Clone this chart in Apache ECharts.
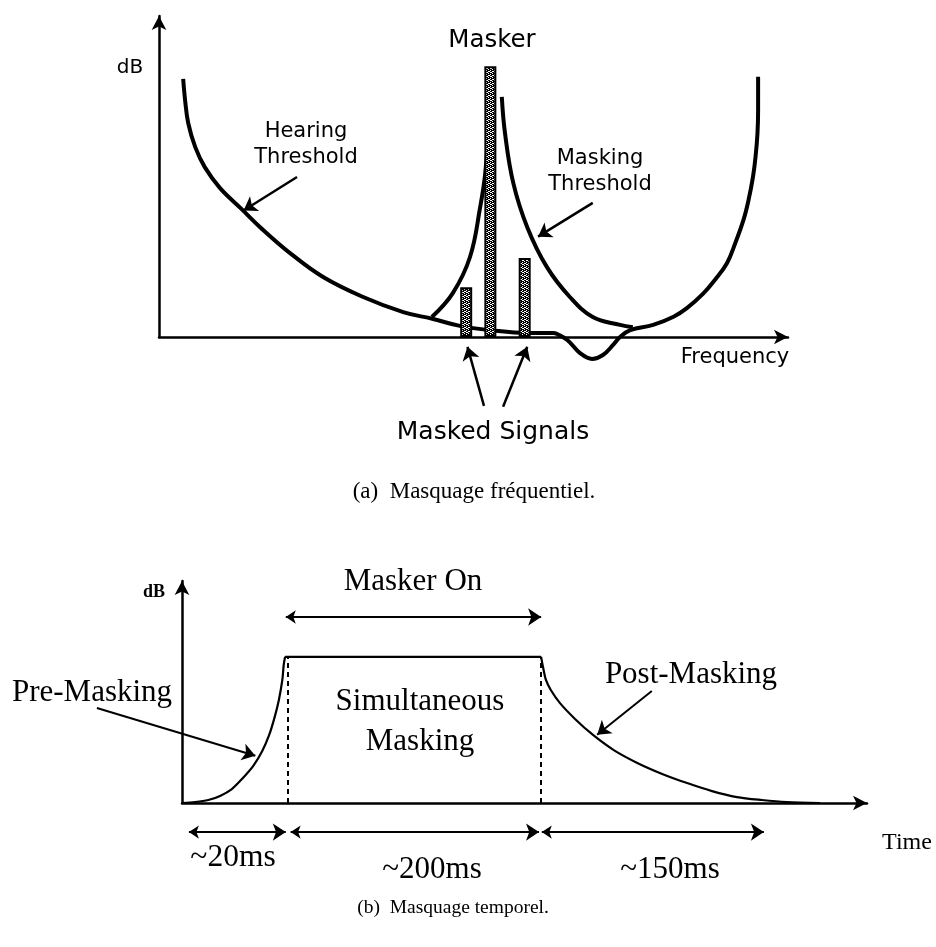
<!DOCTYPE html>
<html>
<head>
<meta charset="utf-8">
<script src="https://cdn.jsdelivr.net/npm/echarts@6/dist/echarts.min.js"></script>
<style>html,body{margin:0;padding:0;background:#fff}#c{width:936px;height:947px}</style>
</head>
<body>
<div id="c"></div>
<script>
// ---------- (a) frequency masking ----------
const hearingX = [3.8, 4.1, 4.6, 5.7, 7.2, 9.6, 13.0, 15.9, 20.6, 25.8, 32.1, 38.4, 43.1, 47.3, 52.0, 57.9, 62.0, 62.6, 64.2, 66.2, 68.1, 69.8, 71.4, 72.5, 74.1, 77.7, 80.9, 83.0, 85.6, 87.4, 89.3, 90.6, 91.9, 92.7, 93.4, 93.8, 94.1, 94.2, 94.2];
const hearingY = [78.7, 72.3, 65.2, 57.9, 51.8, 45.4, 39.0, 33.5, 25.6, 18.3, 12.2, 7.6, 5.5, 3.4, 2.1, 1.2, 1.2, 0.9, -0.9, -4.9, -6.7, -5.5, -2.4, 0.0, 2.1, 3.7, 6.2, 8.8, 13.3, 17.4, 22.5, 28.6, 35.7, 41.8, 48.9, 55.0, 62.1, 69.2, 79.4];
const maskLeftX = [42.9, 46.2, 48.9, 50.5, 51.3, 51.9];
const maskLeftY = [6.1, 13.4, 24.4, 39.6, 50.0, 66.2];
const maskRightX = [53.9, 54.4, 55.7, 57.9, 61.0, 64.6, 68.2, 72.5, 74.5];
const maskRightY = [73.2, 62.2, 47.0, 33.5, 21.3, 12.2, 6.1, 3.7, 3.0];
const toneX = [48.3, 52.1, 57.5];
const toneY = [15.2, 82.6, 24.1];
// annotation arrows (from -> to), in data units
const arrowsA = [
  [[21.7, 48.8], [13.3, 38.6]],
  [[68.2, 40.9], [59.6, 30.6]],
  [[51.1, -21.0], [48.5, -3.0]],
  [[54.1, -21.3], [57.9, -3.0]]
];
// ---------- (b) temporal masking ----------
const preX = [0, 1.9, 3.8, 5.5, 7.2, 8.8, 10.3, 11.6, 12.6, 13.4, 14.0, 14.5, 14.7, 14.9];
const preY = [0, 0.4, 1.3, 3.1, 6.1, 10.9, 16.2, 22.7, 29.7, 37.6, 45.0, 53.7, 60.3, 63.8];
const onsetX = 14.9, offsetX = 51.9, maskLevel = 63.8;
const postX = [51.9, 52.2, 52.6, 53.3, 54.6, 56.8, 59.4, 62.4, 65.8, 69.4, 73.0, 76.6, 80.2, 83.8, 87.4, 92.2];
const postY = [63.8, 59.0, 53.7, 49.3, 43.7, 36.7, 29.7, 23.1, 17.5, 12.7, 8.7, 5.2, 2.6, 1.3, 0.4, 0];
const dashX = [15.3, 51.9];
const spanRows = [[1.0, 15.0], [15.7, 51.6], [52.0, 84.1]];
const spanY = -12.7;
const maskerOnSpan = [15.0, 51.9];
const maskerOnY = 81.2;
const arrowsB = [
  [[-12.3, 41.5], [10.6, 20.6]],
  [[67.9, 48.9], [60.0, 29.8]]
];

// texture for the tone bars
const pat = document.createElement('canvas');
pat.width = 4; pat.height = 4;
const pc = pat.getContext('2d');
pc.fillStyle = '#fff'; pc.fillRect(0, 0, 4, 4);
pc.fillStyle = '#000';
[[0,0],[1,0],[2,1],[3,1],[0,2],[1,2],[2,3],[3,3],[1,1],[3,2]].forEach(p => pc.fillRect(p[0], p[1], 1, 1));

const SANS = '"DejaVu Sans", sans-serif';
const SERIF = '"Liberation Serif", "Times New Roman", serif';

function zip(xs, ys) { return xs.map((x, i) => [x, ys[i]]); }
function axisStyle(extra) {
  return Object.assign({
    type: 'value', min: 0,
    splitLine: { show: false }, axisTick: { show: false }, axisLabel: { show: false },
    axisLine: { show: true, onZero: false, symbol: ['none', 'arrow'], symbolSize: [11, 14],
      lineStyle: { color: '#000', width: 2.5 } }
  }, extra);
}
function curve(gi, data, width, smooth) {
  return { type: 'line', xAxisIndex: gi, yAxisIndex: gi, data: data, smooth: smooth, symbol: 'none',
    clip: false, z: 3, silent: true, lineStyle: { color: '#000', width: width } };
}
function linesSeries(gi, items, sym, width, type) {
  return {
    type: 'lines', coordinateSystem: 'cartesian2d', xAxisIndex: gi, yAxisIndex: gi,
    clip: false, silent: true, polyline: false, z: 6,
    symbol: sym, symbolSize: [10, 13],
    lineStyle: { color: '#000', width: width, opacity: 1, type: type || 'solid', curveness: 0 },
    data: items.map(a => ({ coords: [a[0], a[1]] }))
  };
}

const texts = [
  { t: 'dB', x: 130, y: 68, f: '20px ' + SANS },
  { t: 'Masker', x: 492, y: 41, f: '24.5px ' + SANS },
  { t: 'Hearing\nThreshold', x: 306, y: 145, f: '21px ' + SANS, lh: 26 },
  { t: 'Masking\nThreshold', x: 600, y: 172, f: '21px ' + SANS, lh: 26 },
  { t: 'Frequency', x: 735, y: 358, f: '21px ' + SANS },
  { t: 'Masked Signals', x: 493, y: 432, f: '25px ' + SANS },
  { t: '(a)  Masquage fréquentiel.', x: 474, y: 492, f: '23px ' + SERIF },
  { t: 'dB', x: 154, y: 592, f: 'bold 18px ' + SERIF },
  { t: 'Masker On', x: 413, y: 582, f: '31px ' + SERIF },
  { t: 'Pre-Masking', x: 92, y: 693, f: '31px ' + SERIF },
  { t: 'Simultaneous\nMasking', x: 420, y: 722, f: '31px ' + SERIF, lh: 40 },
  { t: 'Post-Masking', x: 691, y: 675, f: '31px ' + SERIF },
  { t: '~20ms', x: 233, y: 858, f: '31.5px ' + SERIF },
  { t: '~200ms', x: 432, y: 870, f: '31px ' + SERIF },
  { t: '~150ms', x: 670, y: 870, f: '31px ' + SERIF },
  { t: 'Time', x: 907, y: 843, f: '24px ' + SERIF },
  { t: '(b)  Masquage temporel.', x: 453, y: 908, f: '19.5px ' + SERIF }
];

const chart = echarts.init(document.getElementById('c'), null, { renderer: 'canvas' });
chart.setOption({
  animation: false,
  backgroundColor: '#fff',
  grid: [
    { left: 159, right: 148, top: 16, bottom: 610 },
    { left: 182, right: 69, top: 581, bottom: 144 }
  ],
  xAxis: [axisStyle({ gridIndex: 0, max: 98.9 }), axisStyle({ gridIndex: 1, max: 99.0 })],
  yAxis: [axisStyle({ gridIndex: 0, max: 97.9 }), axisStyle({ gridIndex: 1, max: 96.9 })],
  graphic: texts.map(o => ({
    type: 'text', x: o.x, y: o.y, silent: true,
    style: { text: o.t, font: o.f, fill: '#000', textAlign: 'center', textVerticalAlign: 'middle', lineHeight: o.lh }
  })),
  series: [
    curve(0, zip(hearingX, hearingY), 4, 0.4),
    curve(0, zip(maskLeftX, maskLeftY), 4, 0.4),
    curve(0, zip(maskRightX, maskRightY), 4, 0.4),
    { type: 'bar', name: 'Tones', xAxisIndex: 0, yAxisIndex: 0, data: zip(toneX, toneY), barWidth: 12, z: 5,
      silent: true,
      itemStyle: { color: { image: pat, repeat: 'repeat' }, borderColor: '#000', borderWidth: 2 } },
    linesSeries(0, arrowsA, ['none', 'arrow'], 2.5),
    curve(1, zip(preX, preY), 2.2, 0.3),
    curve(1, [[onsetX, maskLevel], [offsetX, maskLevel]], 2.2, false),
    curve(1, zip(postX, postY), 2.2, 0.3),
    linesSeries(1, arrowsB, ['none', 'arrow'], 2),
    linesSeries(1, spanRows.map(s => [[s[0], spanY], [s[1], spanY]])
      .concat([[[maskerOnSpan[0], maskerOnY], [maskerOnSpan[1], maskerOnY]]]), ['arrow', 'arrow'], 2),
    linesSeries(1, dashX.map(x => [[x, 0], [x, maskLevel]]), ['none', 'none'], 2, [5, 4])
  ]
});
</script>
</body>
</html>
